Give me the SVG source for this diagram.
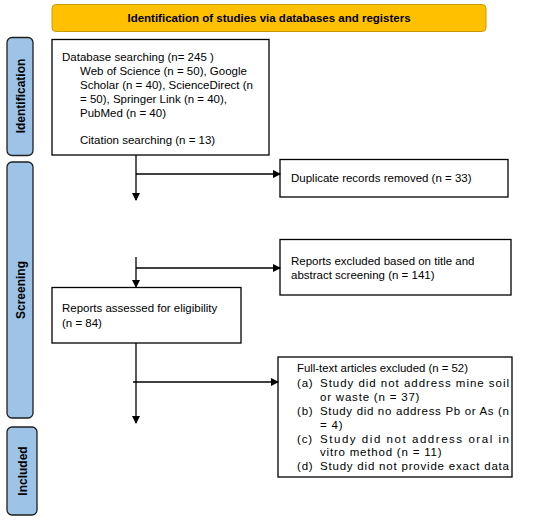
<svg xmlns="http://www.w3.org/2000/svg" width="550" height="520" viewBox="0 0 550 520">
<defs>
<marker id="ah" markerWidth="8" markerHeight="8" refX="7" refY="4" orient="auto" markerUnits="userSpaceOnUse">
<path d="M0,0 L8,4 L0,8 z" fill="#000"/>
</marker>
<style>
.box{fill:#fff;stroke:#000;stroke-width:1.3}
.side{fill:#9DC3E6;stroke:#1f1f1f;stroke-width:1.3}
.t{font-family:"Liberation Sans",Arial,sans-serif;font-size:11.5px;fill:#000}
.s{font-family:"Liberation Sans",Arial,sans-serif;font-size:11.5px;fill:#000}
.ls{letter-spacing:0.8px}
.b{font-family:"Liberation Sans",Arial,sans-serif;font-size:11.5px;font-weight:bold;fill:#000}
.sb{font-family:"Liberation Sans",Arial,sans-serif;font-size:12px;font-weight:bold;fill:#000}
.c{fill:none;stroke:#000;stroke-width:1.3}
</style>
</defs>
<g id="title">
<rect x="52" y="4.5" width="434" height="27" rx="4" fill="#FFC000" stroke="#C99A00" stroke-width="1"/>
<text class="b" x="269" y="21.5" text-anchor="middle">Identification of studies via databases and registers</text>
</g>
<g id="side-identification">
<rect class="side" x="7" y="37.5" width="26" height="118" rx="5"/>
<text class="sb" transform="translate(24.5,96) rotate(-90)" text-anchor="middle">Identification</text>
</g>
<g id="side-screening">
<rect class="side" x="7" y="162" width="26" height="256" rx="5"/>
<text class="sb" transform="translate(24.5,290) rotate(-90)" text-anchor="middle">Screening</text>
</g>
<g id="side-included">
<rect class="side" x="7" y="427" width="30" height="88" rx="5"/>
<text class="sb" transform="translate(26.5,471) rotate(-90)" text-anchor="middle">Included</text>
</g>
<g id="n-database">
<rect class="box" x="52" y="39.5" width="217" height="115.5"/>
<text class="t" x="62" y="61">Database searching (n= 245 )</text>
<text class="t" x="80" y="75">Web of Science (n = 50), Google</text>
<text class="t" x="80" y="89">Scholar (n = 40), ScienceDirect (n</text>
<text class="t" x="80" y="103">= 50), Springer Link (n = 40),</text>
<text class="t" x="80" y="117">PubMed (n = 40)</text>
<text class="t" x="80" y="144">Citation searching (n = 13)</text>
</g>
<g id="n-duplicates">
<rect class="box" x="280" y="159.5" width="228" height="37.5"/>
<text class="t" x="291" y="182">Duplicate records removed (n = 33)</text>
</g>
<g id="n-excluded-title">
<rect class="box" x="280" y="239.5" width="231" height="55.5"/>
<text class="t" x="291" y="265">Reports excluded based on title and</text>
<text class="t" x="291" y="279">abstract screening (n = 141)</text>
</g>
<g id="n-assessed">
<rect class="box" x="52" y="287.5" width="189" height="55.5"/>
<text class="t" x="62" y="312">Reports assessed for eligibility</text>
<text class="t" x="62" y="327">(n = 84)</text>
</g>
<g id="n-fulltext-excluded">
<rect class="box" x="278" y="357" width="234" height="120"/>
<text class="s" x="297" y="372" textLength="171" lengthAdjust="spacingAndGlyphs">Full-text articles excluded (n = 52)</text>
<text class="s ls" x="297" y="387">(a)</text>
<text class="s" x="320" y="387" textLength="189" lengthAdjust="spacing">Study did not address mine soil</text>
<text class="s ls" x="320" y="401">or waste (n = 37)</text>
<text class="s ls" x="297" y="415">(b)</text>
<text class="s" x="320" y="415" textLength="189" lengthAdjust="spacing">Study did no address Pb or As (n</text>
<text class="s ls" x="320" y="429">= 4)</text>
<text class="s ls" x="297" y="443">(c)</text>
<text class="s" x="320" y="443" textLength="189" lengthAdjust="spacing">Study did not address oral in</text>
<text class="s ls" x="320" y="456">vitro method (n = 11)</text>
<text class="s ls" x="297" y="470">(d)</text>
<text class="s" x="320" y="470" textLength="189" lengthAdjust="spacing">Study did not provide exact data</text>
</g>
<g id="connectors">
<path class="c" d="M136,155 V200" marker-end="url(#ah)"/>
<path class="c" d="M136,174 H280" marker-end="url(#ah)"/>
<path class="c" d="M136,257 V287" marker-end="url(#ah)"/>
<path class="c" d="M136,268 H280" marker-end="url(#ah)"/>
<path class="c" d="M136,343 V423" marker-end="url(#ah)"/>
<path class="c" d="M133,382 H278" marker-end="url(#ah)"/>
</g>
</svg>
